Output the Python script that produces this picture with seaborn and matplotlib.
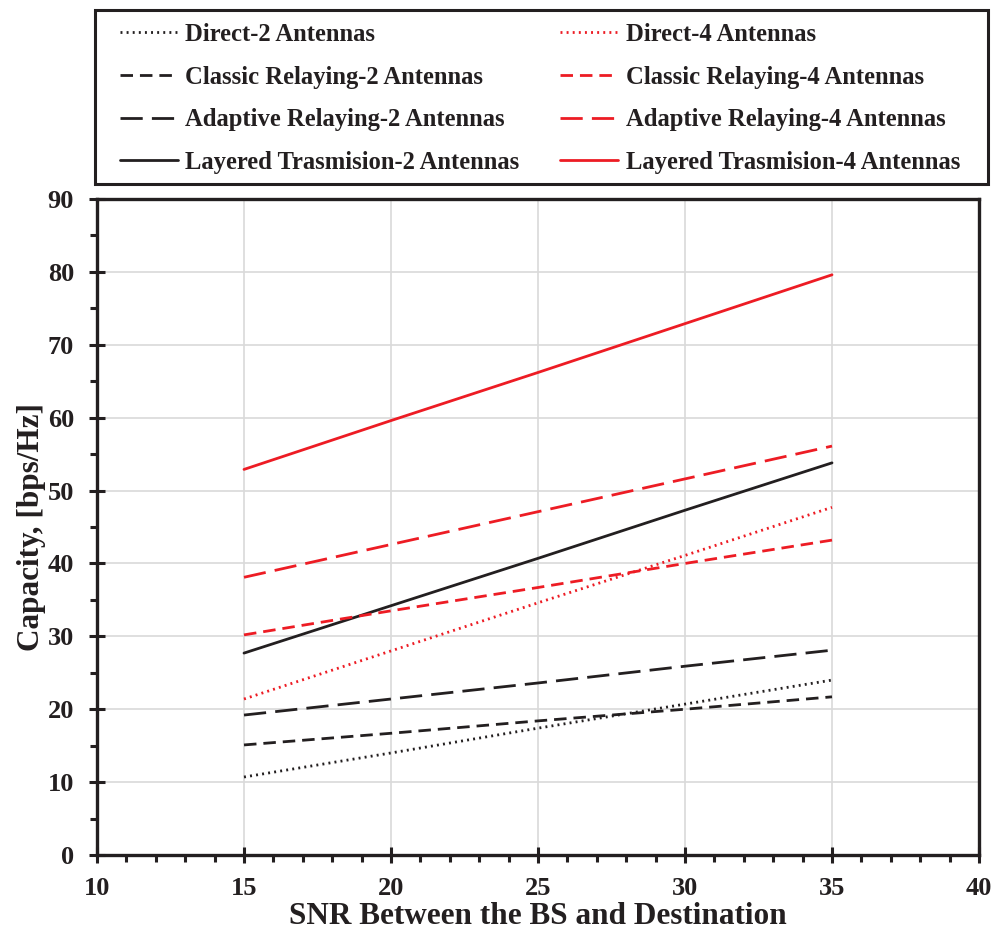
import matplotlib
matplotlib.use("Agg")
import matplotlib.pyplot as plt
import seaborn as sns
import pandas as pd
from matplotlib.ticker import MultipleLocator
from matplotlib.patches import Rectangle

snr = [15, 20, 25, 30, 35]
direct_2 = [10.7, 14.0, 17.4, 20.7, 24.0]
classic_2 = [15.1, 16.7, 18.4, 20.0, 21.7]
adaptive_2 = [19.2, 21.4, 23.6, 25.9, 28.1]
layered_2 = [27.7, 34.2, 40.7, 47.3, 53.8]
direct_4 = [21.4, 28.0, 34.6, 41.1, 47.7]
classic_4 = [30.2, 33.5, 36.7, 40.0, 43.2]
adaptive_4 = [38.1, 42.6, 47.1, 51.6, 56.1]
layered_4 = [52.9, 59.6, 66.2, 72.9, 79.6]

series_names = [
    "Direct-2 Antennas", "Classic Relaying-2 Antennas",
    "Adaptive Relaying-2 Antennas", "Layered Trasmision-2 Antennas",
    "Direct-4 Antennas", "Classic Relaying-4 Antennas",
    "Adaptive Relaying-4 Antennas", "Layered Trasmision-4 Antennas",
]
series_values = [direct_2, classic_2, adaptive_2, layered_2,
                 direct_4, classic_4, adaptive_4, layered_4]

BLACK = "#231F20"
RED = "#ED1C24"
LW = 2.0
styles = [(0, (0.7, 1.5)), (0, (4.5, 2.5)), (0, (8.0, 3.3)), "-"]

sns.set_style("white")
plt.rcParams["font.family"] = ["Liberation Serif", "DejaVu Serif"]
plt.rcParams["font.weight"] = "bold"

fig = plt.figure(figsize=(9.99, 9.33), dpi=100)
ax = fig.add_axes([97/999, 1-855/933, (979-97)/999, (855-199)/933])

for i, (name, vals) in enumerate(zip(series_names, series_values)):
    df = pd.DataFrame({"x": snr, "y": vals})
    color = BLACK if i < 4 else RED
    sns.lineplot(data=df, x="x", y="y", ax=ax, color=color, linewidth=LW,
                 label=name, legend=False)
    ax.lines[-1].set_linestyle(styles[i % 4])

ax.set_xlim(10, 40)
ax.set_ylim(0, 90)
ax.xaxis.set_major_locator(MultipleLocator(5))
ax.xaxis.set_minor_locator(MultipleLocator(1))
ax.yaxis.set_major_locator(MultipleLocator(10))
ax.yaxis.set_minor_locator(MultipleLocator(5))
ax.grid(True, which="major", color="#d9d9d9", linewidth=1.2)
ax.set_axisbelow(True)

for s in ax.spines.values():
    s.set_color(BLACK)
    s.set_linewidth(2.4)
ax.tick_params(which="major", direction="inout", length=11, width=2.2,
               color=BLACK, labelsize=19)
ax.tick_params(which="minor", direction="out", length=5, width=2.2, color=BLACK)
ax.tick_params(axis="x", which="major", pad=10)
ax.tick_params(axis="y", which="major", pad=11)
ax.tick_params(axis="both", which="both", bottom=True, left=True, top=False, right=False)
for lab in ax.get_xticklabels() + ax.get_yticklabels():
    lab.set_fontweight("bold")
    lab.set_color(BLACK)

ax.set_xlabel("SNR Between the BS and Destination", fontsize=22.5,
              fontweight="bold", color=BLACK, labelpad=2)
ax.set_ylabel("Capacity, [bps/Hz]", fontsize=22.5, fontweight="bold",
              color=BLACK, labelpad=1)

# legend box
fig.add_artist(Rectangle((95/999, 1-184/933), (988-95)/999, (184-10)/933,
                         transform=fig.transFigure, fill=True, facecolor="white",
                         edgecolor=BLACK, linewidth=2.2, zorder=1))

handles, labels = ax.get_legend_handles_labels()
leg = fig.legend(handles, labels, ncol=2, loc="upper left",
                 bbox_to_anchor=(120/999, 1-23/933),
                 frameon=False, handlelength=2.35, handletextpad=0.3,
                 labelspacing=0.8, borderpad=0, borderaxespad=0,
                 columnspacing=1.67,
                 prop={"family": "Liberation Serif", "weight": "bold", "size": 17.7})
leg.set_zorder(2)
for t in leg.get_texts():
    t.set_color(BLACK)

fig.savefig("out.png", dpi=100)
